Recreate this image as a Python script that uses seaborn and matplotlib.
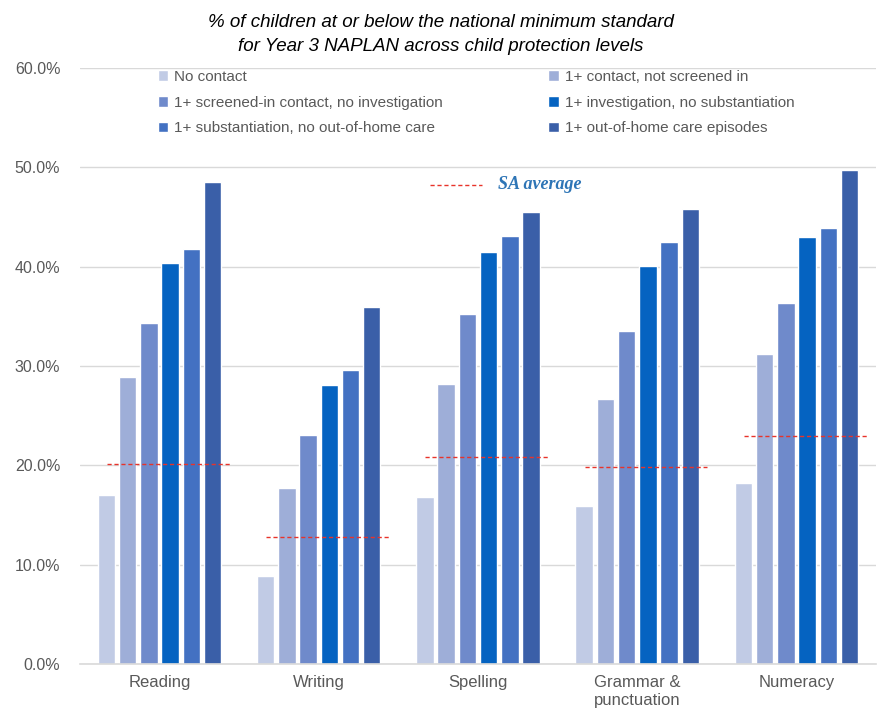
import numpy as np
import pandas as pd
import matplotlib
matplotlib.use("Agg")
import matplotlib.pyplot as plt
import seaborn as sns
from matplotlib.ticker import PercentFormatter

# data
subjects = ["Reading", "Writing", "Spelling", "Grammar &\npunctuation", "Numeracy"]
levels = ["No contact",
          "1+ contact, not screened in",
          "1+ screened-in contact, no investigation",
          "1+ investigation, no substantiation",
          "1+ substantiation, no out-of-home care",
          "1+ out-of-home care episodes"]
no_contact = [17.0, 8.9, 16.8, 15.9, 18.2]
not_screened = [28.9, 17.7, 28.2, 26.7, 31.2]
screened_in = [34.3, 23.1, 35.2, 33.5, 36.3]
investigation = [40.4, 28.1, 41.5, 40.1, 43.0]
substantiation = [41.8, 29.6, 43.1, 42.5, 43.9]
out_of_home = [48.5, 35.9, 45.5, 45.8, 49.7]
sa_average = [20.1, 12.8, 20.9, 19.8, 23.0]

colors = ["#C1CBE5", "#9EAED8", "#6F8ACB", "#0563C1", "#4371C2", "#3A5FA8"]

series = [no_contact, not_screened, screened_in, investigation, substantiation, out_of_home]
rows = []
for lvl, vals in zip(levels, series):
    for s, v in zip(subjects, vals):
        rows.append({"subject": s, "level": lvl, "pct": v})
df = pd.DataFrame(rows)

sns.set_style("white")
plt.rcParams["font.family"] = ["Liberation Sans", "DejaVu Sans"]

fig = plt.figure(figsize=(8.77, 7.15), dpi=100)
ax = fig.add_axes([0.091, 0.071, 0.908, 0.834])

sns.barplot(data=df, x="subject", y="pct", hue="level", palette=colors,
            order=subjects, hue_order=levels, width=0.8, gap=0.18,
            saturation=1, ax=ax, legend=True)

# SA average dashed lines
for i, v in enumerate(sa_average):
    ax.hlines(v, i - 0.33, i + 0.44, colors="#E8332A", linestyles=(0, (3, 2)),
              linewidth=1.0, zorder=5)

ax.set_ylim(0, 60)
ax.set_xlim(-0.5, 4.5)
ax.yaxis.set_major_formatter(PercentFormatter(decimals=1))
ax.set_yticks(np.arange(0, 61, 10))
ax.grid(axis="y", color="#D9D9D9", linewidth=1)
ax.set_axisbelow(True)
for side in ["top", "right", "left"]:
    ax.spines[side].set_visible(False)
ax.spines["bottom"].set_color("#D9D9D9")
ax.spines["bottom"].set_linewidth(1.2)
ax.tick_params(axis="y", labelsize=11.5, labelcolor="#595959", length=0, pad=14)
ax.tick_params(axis="x", labelsize=12, labelcolor="#595959", length=0, pad=8)
ax.set_xlabel("")
ax.set_ylabel("")

# legend filled row by row like the reference
handles, labels = ax.get_legend_handles_labels()
order = [0, 2, 4, 1, 3, 5]
leg = ax.legend([handles[k] for k in order], [labels[k] for k in order],
                loc="upper left", bbox_to_anchor=(0.088, 1.01), ncol=2,
                frameon=False, fontsize=11, handlelength=0.7, handleheight=0.7,
                handletextpad=0.4, columnspacing=6.9, labelspacing=0.78,
                borderaxespad=0.1)
for t in leg.get_texts():
    t.set_color("#595959")

# SA average key
ax.plot([0.44, 0.505], [0.804, 0.804], transform=ax.transAxes, color="#E8332A",
        linestyle=(0, (3, 2)), linewidth=1.0)
ax.text(0.525, 0.804, "SA average", transform=ax.transAxes, va="center", ha="left",
        fontsize=13, fontweight="bold", fontstyle="italic", color="#2E75B6",
        family=["Liberation Serif", "DejaVu Serif"])

fig.text(0.503, 0.968, "% of children at or below the national minimum standard",
         ha="center", va="center", fontsize=13.5, fontstyle="italic", color="#000000")
fig.text(0.503, 0.935, "for Year 3 NAPLAN across child protection levels",
         ha="center", va="center", fontsize=13.5, fontstyle="italic", color="#000000")

fig.savefig("out.png", dpi=100)
